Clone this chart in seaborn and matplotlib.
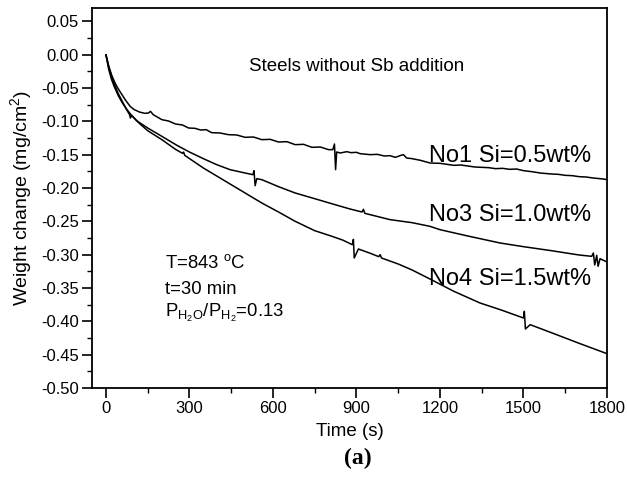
import matplotlib
matplotlib.use("Agg")
import matplotlib.pyplot as plt
import seaborn as sns
import pandas as pd
from matplotlib.ticker import MultipleLocator

# ---- data ----
t_no1 = [0, 10, 20, 30, 39, 50, 70, 87, 100, 120, 140, 153, 160, 170, 201, 225, 250, 275, 297,
         320, 340, 360, 380, 410, 440, 470, 500, 530, 560, 590, 620, 650, 680, 710, 740, 770,
         800, 815, 821, 825, 829, 842, 865, 880, 900, 913, 950, 975, 1000, 1020, 1040,
         1060, 1069, 1080, 1100, 1130, 1164, 1200, 1225, 1250, 1275, 1300, 1325, 1350, 1375, 1400,
         1425, 1450, 1475, 1500, 1530, 1560, 1600, 1625, 1650, 1675, 1700, 1725, 1750, 1787, 1800]
w_no1 = [0, -0.017, -0.030, -0.040, -0.0475, -0.055, -0.068, -0.0775, -0.082, -0.086, -0.088, -0.0875,
         -0.085, -0.090, -0.0975, -0.0995, -0.104, -0.1055, -0.110, -0.1105, -0.113, -0.1125,
         -0.117, -0.1175, -0.120, -0.1205, -0.124, -0.1235, -0.1275, -0.127, -0.131, -0.1305,
         -0.135, -0.1345, -0.139, -0.1385, -0.1425, -0.1425, -0.134, -0.1725, -0.146, -0.1475,
         -0.1455, -0.147, -0.1465, -0.1485, -0.150, -0.1495, -0.152, -0.1515, -0.154, -0.151,
         -0.150, -0.155, -0.156, -0.1585, -0.1625, -0.163, -0.1645, -0.166, -0.1655, -0.167,
         -0.1685, -0.169, -0.1695, -0.171, -0.1705, -0.172, -0.1715, -0.174, -0.1755, -0.1775,
         -0.179, -0.1795, -0.181, -0.1815, -0.183, -0.1835, -0.185, -0.1865, -0.1875]

t_no3 = [0, 10, 20, 30, 45, 60, 75, 85, 88, 92, 110, 150, 201, 255, 300, 350, 398, 446, 500, 528,
         532, 536, 542, 560, 620, 680, 758, 823, 877, 920, 925, 930, 1021, 1100, 1164, 1200,
         1300, 1416, 1500, 1600, 1700, 1745, 1751, 1756, 1763, 1768, 1775, 1800]
w_no3 = [0, -0.018, -0.032, -0.044, -0.059, -0.071, -0.083, -0.090, -0.095, -0.091, -0.099, -0.110,
         -0.1225, -0.136, -0.146, -0.156, -0.165, -0.1725, -0.1775, -0.180, -0.174, -0.1965, -0.186,
         -0.1875, -0.198, -0.2075, -0.217, -0.225, -0.2315, -0.236, -0.232, -0.238, -0.2475,
         -0.252, -0.2575, -0.2625, -0.272, -0.2825, -0.288, -0.294, -0.3005, -0.3025, -0.2975,
         -0.3155, -0.301, -0.3175, -0.306, -0.311]

t_no4 = [0, 10, 20, 30, 45, 60, 75, 90, 120, 150, 201, 250, 275, 279, 283, 350, 440, 500, 560, 620,
         680, 750, 805, 850, 885, 889, 892, 907, 950, 980, 985, 990, 1050, 1100, 1164, 1250, 1344,
         1420, 1500, 1503, 1507, 1524, 1600, 1700, 1800]
w_no4 = [0, -0.022, -0.037, -0.048, -0.062, -0.073, -0.082, -0.090, -0.103, -0.114, -0.1275, -0.142,
         -0.148, -0.146, -0.151, -0.170, -0.1925, -0.2075, -0.2225, -0.236, -0.250, -0.264, -0.2715,
         -0.278, -0.285, -0.277, -0.305, -0.2915, -0.298, -0.303, -0.300, -0.305, -0.314, -0.323,
         -0.3365, -0.355, -0.3725, -0.383, -0.395, -0.385, -0.4115, -0.405, -0.417, -0.433, -0.4485]

labels = ["No1 Si=0.5wt%", "No3 Si=1.0wt%", "No4 Si=1.5wt%"]
title_text = "Steels without Sb addition"
cond_lines = ["T=843 $^{\\mathrm{o}}$C", "t=30 min",
              "P$_{\\mathrm{H_{2}O}}$/P$_{\\mathrm{H_{2}}}$=0.13"]
x_ticks = [0, 300, 600, 900, 1200, 1500, 1800]
y_ticks = [0.05, 0.00, -0.05, -0.10, -0.15, -0.20, -0.25, -0.30, -0.35, -0.40, -0.45, -0.50]

sns.set_style("ticks")
plt.rcParams["font.family"] = ["Liberation Sans", "DejaVu Sans"]
plt.rcParams["mathtext.fontset"] = "custom"
plt.rcParams["mathtext.rm"] = "Liberation Sans"
plt.rcParams["mathtext.it"] = "Liberation Sans:italic"
plt.rcParams["mathtext.bf"] = "Liberation Sans:bold"
plt.rcParams["text.color"] = "black"
plt.rcParams["axes.labelcolor"] = "black"
plt.rcParams["xtick.color"] = "black"
plt.rcParams["ytick.color"] = "black"

fig = plt.figure(figsize=(6.27, 4.79), dpi=100)
ax = fig.add_axes([92 / 627, 1 - 388 / 479, (607 - 92) / 627, (388 - 8) / 479])

for t, w in [(t_no1, w_no1), (t_no3, w_no3), (t_no4, w_no4)]:
    df = pd.DataFrame({"t": t, "w": w})
    sns.lineplot(data=df, x="t", y="w", ax=ax, color="black", lw=1.1,
                 estimator=None, sort=False)

ax.set_xlim(-50, 1800)
ax.set_ylim(-0.50, 0.07)
ax.set_xticks(x_ticks)
ax.set_yticks(y_ticks)
ax.set_yticklabels([f"{v:.2f}" for v in y_ticks])
ax.xaxis.set_minor_locator(MultipleLocator(150))
ax.yaxis.set_minor_locator(MultipleLocator(0.025))
ax.tick_params(which="major", direction="out", length=7, width=1.2, labelsize=12,
               colors="black", pad=2.5, top=False, right=False)
ax.tick_params(which="minor", direction="out", length=3.5, width=1.0, top=False, right=False)
for s in ax.spines.values():
    s.set_visible(True)
    s.set_linewidth(1.3)
    s.set_color("black")

ax.set_xlabel("Time (s)", fontsize=13.5, labelpad=5)
ax.set_ylabel("Weight change (mg/cm$^{2}$)", fontsize=14, labelpad=5)

ax.text(899, -0.018, title_text, fontsize=13.5, ha="center", va="center")
ax.text(1162, -0.1615, labels[0], fontsize=17, ha="left", va="baseline")
ax.text(1162, -0.25, labels[1], fontsize=17, ha="left", va="baseline")
ax.text(1162, -0.345, labels[2], fontsize=17, ha="left", va="baseline")

ax.text(213, -0.313, cond_lines[0], fontsize=13.3, ha="left", va="center")
ax.text(213, -0.3515, cond_lines[1], fontsize=13.3, ha="left", va="center")
ax.text(213, -0.388, cond_lines[2], fontsize=13.3, ha="left", va="center")

fig.text(358 / 627, 1 - 458 / 479, "(a)", fontsize=17, fontweight="bold",
         family=["Liberation Serif"], ha="center", va="center")

fig.savefig("out.png", dpi=100)
